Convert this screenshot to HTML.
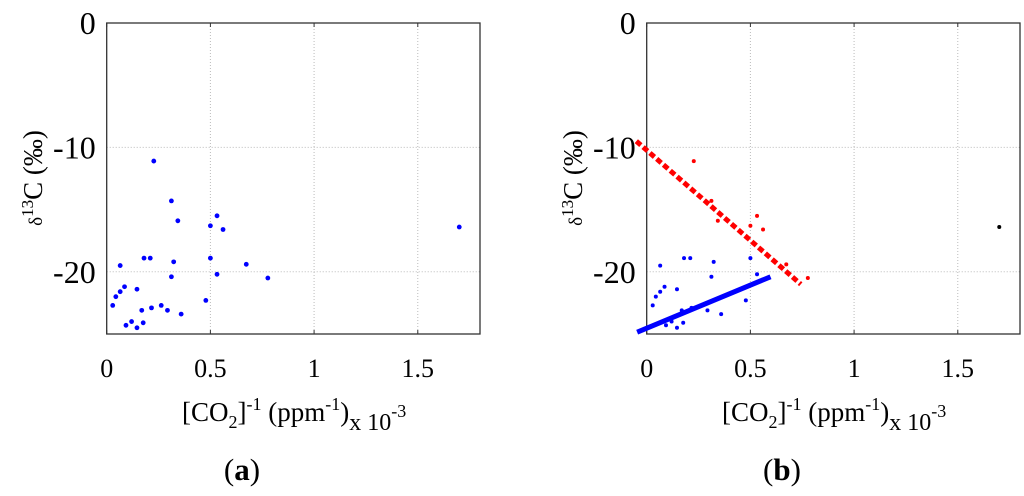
<!DOCTYPE html>
<html><head><meta charset="utf-8"><style>
html,body{margin:0;padding:0;background:#fff;}
svg{display:block;font-family:"Liberation Serif",serif;}
</style></head><body>
<svg id="fig" width="1024" height="496" viewBox="0 0 1024 496"></svg>
<script>
const xs=[0.227,0.312,0.343,0.532,0.5,0.561,0.18,0.21,0.5,0.065,0.323,0.673,0.312,0.532,0.777,0.086,0.146,0.065,0.044,0.029,0.478,0.169,0.216,0.263,0.293,0.359,0.093,0.12,0.146,0.176];
const ys=[-11.1,-14.3,-15.9,-15.5,-16.3,-16.6,-18.9,-18.9,-18.9,-19.5,-19.2,-19.4,-20.4,-20.2,-20.5,-21.2,-21.4,-21.6,-22.0,-22.7,-22.3,-23.1,-22.9,-22.7,-23.1,-23.4,-24.3,-24.0,-24.5,-24.1];
const groupB=['r','r','r','r','r','r','b','b','b','b','b','r','b','b','r','b','b','b','b','b','b','b','b','b','b','b','b','b','b','b'];
const outlier=[1.7,-16.4];
const redFit=[[-0.05,-9.5],[0.743,-21.0]];
const blueFit=[[-0.046,-24.85],[0.597,-20.4]];
const xTicks=[0,0.5,1,1.5];
const xTickLabels=['0','0.5','1','1.5'];
const yTicks=[0,-10,-20];
const yTickLabels=['0','-10','-20'];
const NS='http://www.w3.org/2000/svg';
const svg=document.getElementById('fig');
function el(t,a,p){const e=document.createElementNS(NS,t);for(const k in a)e.setAttribute(k,a[k]);(p||svg).appendChild(e);return e;}
function panel(ox,tag){
  const L=106.7+ox,R=480+ox,T=23,B=334;
  const sx=v=>L+(v-0)/(1.8)*(R-L);
  const sy=v=>T+(0-v)/25*(B-T);
  const g=el('g',{});
  
  
  xTicks.forEach((v,i)=>{
    if(v>0){const l=el('line',{x1:sx(v),x2:sx(v),y1:T,y2:B,stroke:'#bbb','stroke-width':1,'stroke-dasharray':'1,2'},g);
    }
    el('line',{x1:sx(v),x2:sx(v),y1:B,y2:B-4,stroke:'#333'},g);
    el('line',{x1:sx(v),x2:sx(v),y1:T,y2:T+4,stroke:'#333'},g);
    const t=el('text',{x:sx(v),y:377,'text-anchor':'middle','font-size':26},g);
    t.textContent=xTickLabels[i];
    
  });
  yTicks.forEach((v,i)=>{
    if(v<0){const l=el('line',{x1:L,x2:R,y1:sy(v),y2:sy(v),stroke:'#bbb','stroke-width':1,'stroke-dasharray':'1,2'},g);
    }
    const t=el('text',{x:L-11,y:sy(v)+11,'text-anchor':'end','font-size':32},g);
    t.textContent=yTickLabels[i];
    
  });
  const fr=el('rect',{x:L,y:T,width:R-L,height:B-T,fill:'none',stroke:'#333','stroke-width':1.3},g);
  
  if(tag==='b'){
    const rl=el('line',{x1:sx(redFit[0][0]),y1:sy(redFit[0][1]),x2:sx(redFit[1][0]),y2:sy(redFit[1][1]),stroke:'#ff0000','stroke-width':5,'stroke-dasharray':'6,3'},g);
    
    const bl=el('line',{x1:sx(blueFit[0][0]),y1:sy(blueFit[0][1]),x2:sx(blueFit[1][0]),y2:sy(blueFit[1][1]),stroke:'#0000ff','stroke-width':5},g);
    
  }
  xs.forEach((v,i)=>{
    let c='#0000ff',r=2.4;
    if(tag==='b'){r=2;if(groupB[i]==='r')c='#ff0000';}
    const d=el('circle',{cx:sx(v),cy:sy(ys[i]),r:r,fill:c},g);
    
  });
  const o=el('circle',{cx:sx(outlier[0]),cy:sy(outlier[1]),r:tag==='b'?2:2.4,fill:tag==='b'?'#000':'#0000ff'},g);
  
  const yl=el('text',{transform:`translate(${ox+42},178) rotate(-90)`,'text-anchor':'middle','font-size':27},g);
  yl.innerHTML='<tspan font-size="19">δ</tspan><tspan font-size="17" dy="-9">13</tspan><tspan dy="9">C (‰)</tspan>';
  
  const xl=el('text',{x:ox+182,y:421,'font-size':27},g);
  xl.innerHTML='[CO<tspan font-size="18" dy="7">2</tspan><tspan dy="-7">]</tspan><tspan font-size="18" dy="-11">-1</tspan><tspan dy="11"> (ppm</tspan><tspan font-size="18" dy="-11">-1</tspan><tspan dy="11">)</tspan><tspan dy="9" font-size="24">x 10</tspan><tspan font-size="18" dy="-13">-3</tspan>';
  
  const cap=el('text',{x:ox+242,y:480,'text-anchor':'middle','font-size':31},g);
  cap.innerHTML='(<tspan font-weight="bold">'+tag+'</tspan>)';
  
}
panel(0,'a');
panel(540,'b');
</script>
</body></html>
